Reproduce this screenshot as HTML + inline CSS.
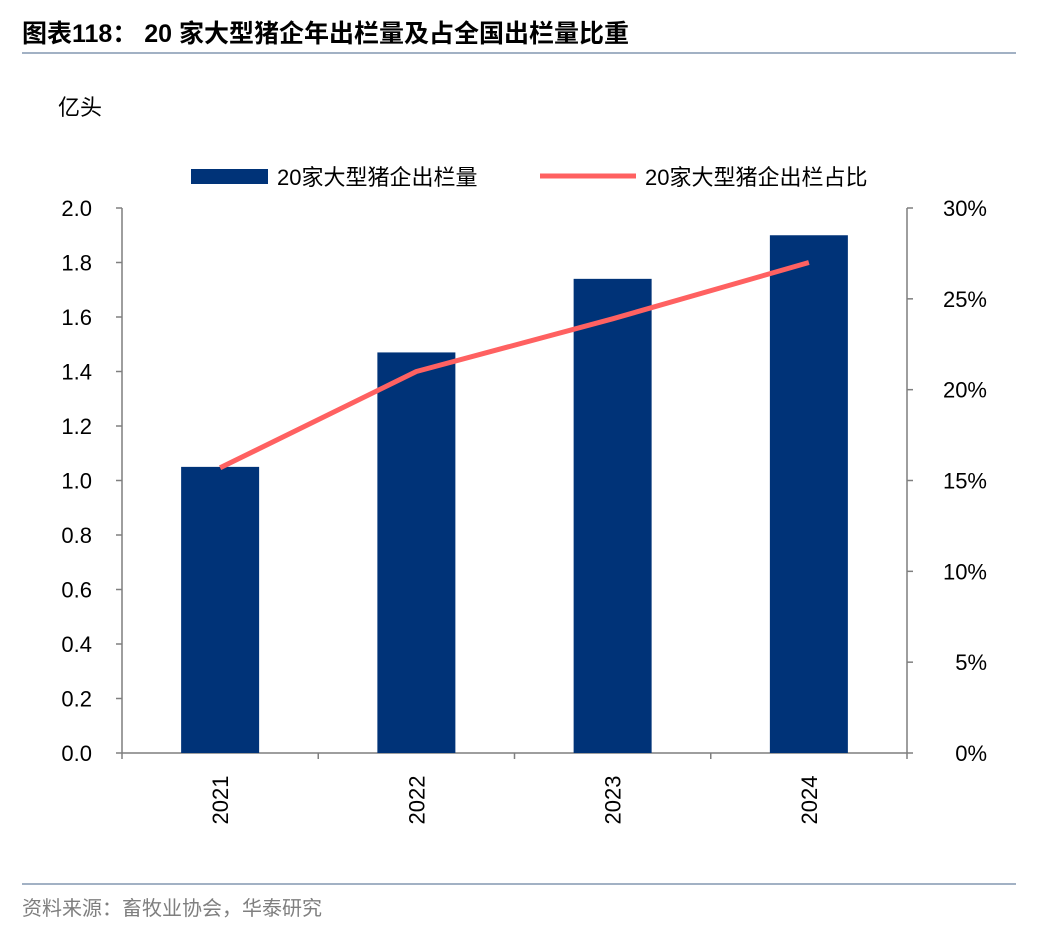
<!DOCTYPE html>
<html><head><meta charset="utf-8"><style>
body{margin:0;background:#fff;}
svg{display:block;font-family:"Liberation Sans","Noto Sans CJK SC",sans-serif;}
</style></head><body>
<svg id="c" width="1044" height="932">
<text x="22" y="42" font-size="25" font-weight="bold" fill="#000">图表118：  20 家大型猪企年出栏量及占全国出栏量比重</text>
<line x1="22" y1="53" x2="1016" y2="53" stroke="#8497b0" stroke-width="1.5"/>
<text x="58" y="115" font-size="22" fill="#000">亿头</text>
<rect x="191" y="169" width="77" height="15" fill="#003378"/>
<text x="277" y="185" font-size="22" fill="#000">20家大型猪企出栏量</text>
<line x1="540" y1="176" x2="636" y2="176" stroke="#ff6161" stroke-width="5"/>
<text x="645" y="185" font-size="22" fill="#000">20家大型猪企出栏占比</text>
<g id="plot"></g>
<line x1="22" y1="884" x2="1016" y2="884" stroke="#8497b0" stroke-width="1.5"/>
<text x="22" y="915" font-size="20" fill="#7f7f7f">资料来源：畜牧业协会，华泰研究</text>
</svg>
<script>
const categories=["2021","2022","2023","2024"];
const volumes=[1.05,1.47,1.74,1.90];
const shares=[15.7,21.0,23.9,27.0];
const leftTicks=["0.0","0.2","0.4","0.6","0.8","1.0","1.2","1.4","1.6","1.8","2.0"];
const rightTicks=["0%","5%","10%","15%","20%","25%","30%"];
const NS="http://www.w3.org/2000/svg";
const g=document.getElementById("plot");
const X0=122,X1=907,Y0=753,Y1=208;
const step=(X1-X0)/categories.length;
const xc=i=>X0+step*(i+0.5);
const yL=v=>Y0-(v/2.0)*(Y0-Y1);
const yR=v=>Y0-(v/30)*(Y0-Y1);
function mk(t,a){const e=document.createElementNS(NS,t);for(const k in a)e.setAttribute(k,a[k]);g.appendChild(e);return e;}
let e;
e=mk("line",{x1:X0,y1:Y1,x2:X0,y2:Y0,stroke:"#7f7f7f","stroke-width":1.5});


e=mk("line",{x1:X1,y1:Y1,x2:X1,y2:Y0,stroke:"#7f7f7f","stroke-width":1.5});


e=mk("line",{x1:X0,y1:Y0,x2:X1,y2:Y0,stroke:"#7f7f7f","stroke-width":1.5});


leftTicks.forEach((t,i)=>{const y=yL(parseFloat(t));
 e=mk("line",{x1:X0-6,y1:y,x2:X0,y2:y,stroke:"#7f7f7f","stroke-width":1.5});
 
 
 e=mk("text",{x:X0-30,y:y+8,"font-size":22,"text-anchor":"end",fill:"#000"});e.textContent=t;
 
 });
rightTicks.forEach((t,i)=>{const y=yR(parseFloat(t));
 e=mk("line",{x1:X1,y1:y,x2:X1+6,y2:y,stroke:"#7f7f7f","stroke-width":1.5});
 
 
 e=mk("text",{x:987,y:y+8,"font-size":22,"text-anchor":"end",fill:"#000"});e.textContent=t;
 
 });
for(let i=0;i<=categories.length;i++){const x=X0+step*i;
 e=mk("line",{x1:x,y1:Y0,x2:x,y2:Y0+6,stroke:"#7f7f7f","stroke-width":1.5});
 
 }
categories.forEach((c,i)=>{const x=xc(i);
 e=mk("rect",{x:x-39,y:yL(volumes[i]),width:78,height:Y0-yL(volumes[i]),fill:"#003378"});
 
 
 e=mk("text",{x:0,y:0,"font-size":22,"text-anchor":"middle",fill:"#000",transform:`translate(${x+8},800) rotate(-90)`});e.textContent=c;
 
 });
e=mk("polyline",{points:shares.map((s,i)=>xc(i)+","+yR(s)).join(" "),fill:"none",stroke:"#ff6161","stroke-width":5,"stroke-linejoin":"round"});


</script>
</body></html>
